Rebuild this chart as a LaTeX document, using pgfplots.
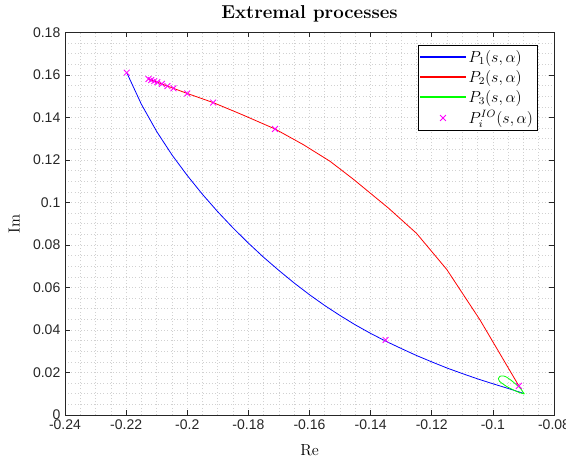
\documentclass[border=0pt]{standalone}
\usepackage{fontspec}
\usepackage{pgfplots}
\pgfplotsset{compat=1.18}
\newfontfamily\ticksf{Liberation Sans}
\definecolor{axgray}{gray}{0.15}
\definecolor{gridgray}{gray}{0.82}
\definecolor{mlblue}{rgb}{0,0,1}
\definecolor{mlred}{rgb}{1,0,0}
\definecolor{mlgreen}{rgb}{0,1,0}
\definecolor{mlmag}{rgb}{1,0,1}
\begin{document}
\begin{tikzpicture}
\begin{axis}[
  at={(0,0)}, anchor=south west,
  scale only axis, width=366.75pt, height=286.9pt,
  xmin=-0.24, xmax=-0.08, ymin=0, ymax=0.18,
  xtick={-0.24,-0.22,-0.2,-0.18,-0.16,-0.14,-0.12,-0.1,-0.08},
  xticklabels={-0.24,-0.22,-0.2,-0.18,-0.16,-0.14,-0.12,-0.1,-0.08},
  ytick={0,0.02,0.04,0.06,0.08,0.1,0.12,0.14,0.16,0.18},
  yticklabels={0,0.02,0.04,0.06,0.08,0.1,0.12,0.14,0.16,0.18},
  minor x tick num=3, minor y tick num=3,
  tick align=inside, major tick length=3.7pt, minor tick length=0pt,
  xtick pos=both, ytick pos=both,
  grid=both,
  major grid style={gridgray, dash pattern=on 0.8pt off 1.6pt, line width=0.5pt},
  minor grid style={gridgray, dash pattern=on 0.8pt off 1.6pt, line width=0.5pt},
  axis line style={axgray, line width=0.5pt},
  tick style={axgray, line width=0.5pt},
  ticklabel style={font=\ticksf\fontsize{10.5}{12}\selectfont, text=axgray},
  title={\textbf{Extremal processes}},
  title style={font=\fontsize{14}{16}\selectfont, at={(axis description cs:0.5,1)}, anchor=base, yshift=4.5pt},
  xlabel={Re}, ylabel={Im},
  xlabel style={font=\fontsize{12}{14}\selectfont, at={(axis description cs:0.5,-0.105)}, anchor=base},
  ylabel style={font=\fontsize{12}{14}\selectfont, at={(axis description cs:-0.104,0.5)}, anchor=center},
  legend style={at={(axis description cs:0.967,0.967)}, anchor=north east,
    font=\fontsize{12}{14}\selectfont,
    inner sep=1.5pt, row sep=0.6pt, cells={anchor=west}},
  legend cell align=left,
]
\addplot[color=mlblue, line width=0.6pt,
  legend image code/.code={\fill[mlblue] (0pt,-0.35pt) rectangle (34pt,0.35pt);}] coordinates {
(-0.2198,0.1611) (-0.2150,0.1462) (-0.2100,0.1334) (-0.2050,0.1224) (-0.2000,0.1127)
(-0.1950,0.1038) (-0.1900,0.0956) (-0.1850,0.0880) (-0.1800,0.0809) (-0.1750,0.0742)
(-0.1700,0.0680) (-0.1650,0.0621) (-0.1600,0.0566) (-0.1550,0.0515) (-0.1500,0.0468)
(-0.1450,0.0424) (-0.1400,0.0384) (-0.1350,0.0347) (-0.1300,0.0313) (-0.1250,0.0280)
(-0.1200,0.0250) (-0.1150,0.0221) (-0.1100,0.0195) (-0.1050,0.0170) (-0.1000,0.0147)
(-0.0950,0.0125) (-0.0900,0.0102)
};
\addlegendentry{$P_1(s,\alpha)$}
\addplot[color=mlred, line width=0.6pt,
  legend image code/.code={\fill[mlred] (0pt,-0.35pt) rectangle (34pt,0.35pt);}] coordinates {
(-0.2127,0.1581) (-0.2098,0.1566) (-0.2045,0.1537) (-0.2000,0.1513) (-0.1915,0.1470)
(-0.1820,0.1413) (-0.1713,0.1346) (-0.1620,0.1272) (-0.1533,0.1194) (-0.1457,0.1110)
(-0.1413,0.1058) (-0.1342,0.0974) (-0.1250,0.0855) (-0.1151,0.0685) (-0.1042,0.0447)
(-0.0915,0.0137)
};
\addlegendentry{$P_2(s,\alpha)$}
\addplot[color=mlgreen, line width=0.6pt, smooth, tension=0.4,
  legend image code/.code={\fill[mlgreen] (0pt,-0.35pt) rectangle (34pt,0.35pt);}] coordinates {
(-0.0897,0.0099) (-0.0910,0.0125) (-0.0925,0.0145) (-0.0940,0.0163) (-0.0955,0.0178)
(-0.0966,0.0184) (-0.0977,0.0182) (-0.0982,0.0172) (-0.0978,0.0158) (-0.0966,0.0145)
(-0.0950,0.0130) (-0.0930,0.0116) (-0.0912,0.0105) (-0.0897,0.0099)
};
\addlegendentry{$P_3(s,\alpha)$}
\addplot[only marks, color=mlmag, mark=x, mark size=3.1pt, line width=0.65pt,
  legend image code/.code={\draw[mlmag, line width=0.65pt] plot[mark=x, mark size=3.1pt] coordinates {(17pt,0pt)};}] coordinates {
(-0.2198,0.1611)
(-0.2127,0.1581) (-0.2118,0.1576) (-0.2108,0.1571) (-0.2098,0.1566) (-0.2083,0.1558)
(-0.2065,0.1548) (-0.2045,0.1537) (-0.2000,0.1513) (-0.1915,0.1470) (-0.1713,0.1346)
(-0.1351,0.0353) (-0.0915,0.0137)
};
\addlegendentry{$P_i^{IO}(s,\alpha)$}
\end{axis}
\pgfresetboundingbox
\path[use as bounding box] (-48.75pt,-34.5pt) rectangle (375.75pt,311.25pt);
\end{tikzpicture}
\end{document}
